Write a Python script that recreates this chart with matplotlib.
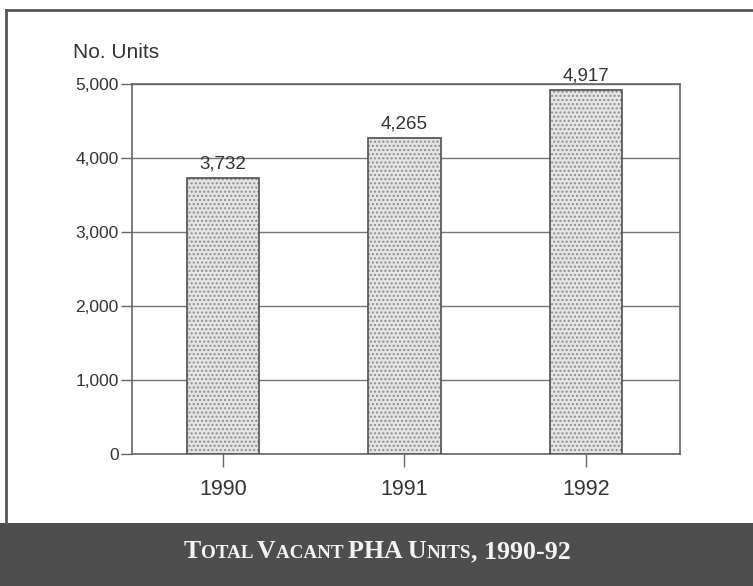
import matplotlib
matplotlib.use("Agg")
import matplotlib.pyplot as plt
from matplotlib.offsetbox import TextArea, HPacker, AnchoredOffsetbox
from matplotlib.patches import Rectangle
from matplotlib.lines import Line2D

years = ["1990", "1991", "1992"]
units = [3732, 4265, 4917]
value_labels = ["3,732", "4,265", "4,917"]
yticks = [0, 1000, 2000, 3000, 4000, 5000]
ytick_labels = ["0", "1,000", "2,000", "3,000", "4,000", "5,000"]

W, H = 753, 586
fig = plt.figure(figsize=(W / 100, H / 100), dpi=100)
fig.patch.set_facecolor("white")

# title band
fig.patches.append(Rectangle((0, 0), 1, 63 / H, transform=fig.transFigure,
                             facecolor="#4e4e4e", edgecolor="none", zorder=0))
# frame lines
fig.lines.append(Line2D([6 / W, 6 / W], [63 / H, 1 - 10 / H], transform=fig.transFigure,
                        color="#555555", lw=2))
fig.lines.append(Line2D([6 / W, 1], [1 - 10 / H, 1 - 10 / H], transform=fig.transFigure,
                        color="#555555", lw=2))

ax = fig.add_axes([132 / W, 1 - 454 / H, (680 - 132) / W, (454 - 84) / H])
x = list(range(len(years)))
bars = ax.bar(x, units, width=0.40, facecolor="#e4e4e4", edgecolor="#505050",
              hatch="....", linewidth=1.2, zorder=3)
for b in bars:
    b._hatch_color = (0.55, 0.55, 0.55, 1)
ax.set_xlim(-0.501, 2.518)
ax.set_ylim(0, 5000)
ax.set_yticks(yticks)
ax.set_yticklabels(ytick_labels, fontsize=12.5, family="Liberation Sans", color="#333333")
ax.set_xticks(x)
ax.set_xticklabels(years, fontsize=15.5, family="Liberation Sans", color="#333333")
ax.tick_params(axis="y", length=8, width=1, color="#666666", pad=1.5)
ax.tick_params(axis="x", length=9.5, width=1, color="#666666", pad=8.5)
ax.yaxis.grid(True, color="#777777", linewidth=1, zorder=1)
ax.set_axisbelow(True)
for s in ax.spines.values():
    s.set_color("#666666")
    s.set_linewidth(1.2)

for xi, v, lab in zip(x, units, value_labels):
    ax.annotate(lab, (xi, v), xytext=(0, 4), textcoords="offset points",
                ha="center", va="bottom", fontsize=13.5, family="Liberation Sans",
                color="#333333", zorder=4)

fig.text(73 / W, 1 - 52 / H, "No. Units", fontsize=15, family="Liberation Sans",
         color="#333333", va="center", ha="left")

# small-caps title
big, small = 18.6, 13.7
segs = [("T", big), ("OTAL ", small), ("V", big), ("ACANT ", small),
        ("PHA U", big), ("NITS", small), (", 1990-92", big)]
areas = [TextArea(t, textprops=dict(fontsize=s, family="Liberation Serif",
                                    weight="bold", color="#f4f4f4")) for t, s in segs]
pack = HPacker(children=areas, align="baseline", pad=0, sep=0)
ab = AnchoredOffsetbox(loc="center", child=pack, frameon=False,
                       bbox_to_anchor=(377 / W, 1 - 552 / H),
                       bbox_transform=fig.transFigure, borderpad=0, pad=0)
fig.add_artist(ab)

fig.savefig("out.png", dpi=100, facecolor="white")
